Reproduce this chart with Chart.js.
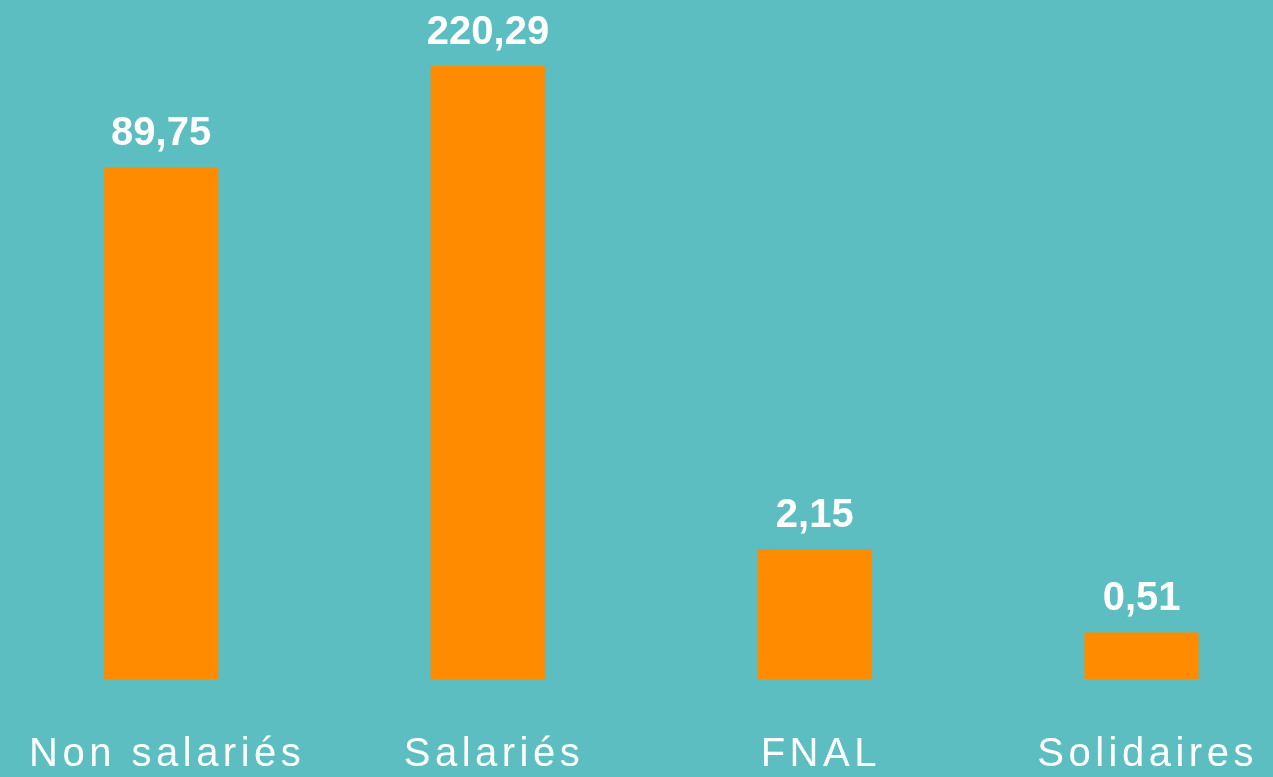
<!DOCTYPE html>
<html>
<head>
<meta charset="utf-8">
<script src="https://cdn.jsdelivr.net/npm/chart.js@4/dist/chart.umd.min.js"></script>
<style>
    html, body { margin: 0; padding: 0; overflow: hidden; background: #5DBEC2; }
    #wrap { position: absolute; left: -3px; top: 0; width: 1308px; height: 777px; }
</style>
</head>
<body>
<div id="wrap"><canvas id="barChart" width="1308" height="777"></canvas></div>
<script>
var categories = ['Non salariés', 'Salariés', 'FNAL', 'Solidaires'];
var values = [89.75, 220.29, 2.15, 0.51];

var fontFamily = "'Liberation Sans', Arial, sans-serif";

// bars in the picture are on a log(1 + x) kind of scale
class Log1pScale extends Chart.LinearScale {
    getPixelForValue(value) {
        var t = Math.log10(1 + value) / Math.log10(1 + this.max);
        return this.getPixelForDecimal(t);
    }
    getValueForPixel(pixel) {
        return Math.pow(10, this.getDecimalForPixel(pixel) * Math.log10(1 + this.max)) - 1;
    }
}
Log1pScale.id = 'log1p';
Log1pScale.defaults = Chart.LinearScale.defaults;
Chart.register(Log1pScale);

var spacingPlugin = {
    id: 'spacing',
    beforeDraw: function(chart) { chart.ctx.letterSpacing = '4.5px'; },
    beforeDatasetsDraw: function(chart) { chart.ctx.letterSpacing = '0px'; }
};

var valueLabels = {
    id: 'valueLabels',
    afterDatasetsDraw: function(chart) {
        var ctx = chart.ctx;
        var meta = chart.getDatasetMeta(0);
        ctx.save();
        ctx.letterSpacing = '0px';
        ctx.fillStyle = '#ffffff';
        ctx.font = 'bold 40px ' + fontFamily;
        ctx.textAlign = 'center';
        ctx.textBaseline = 'alphabetic';
        meta.data.forEach(function(bar, i) {
            var txt = values[i].toFixed(2).replace('.', ',');
            ctx.fillText(txt, bar.x, bar.y - 22);
        });
        ctx.restore();
    }
};

window.onload = function() {
    var ctx = document.getElementById('barChart').getContext('2d');
    new Chart(ctx, {
        type: 'bar',
        data: {
            labels: categories,
            datasets: [{
                data: values,
                backgroundColor: '#FF8C00',
                borderWidth: 0,
                barPercentage: 0.35,
                categoryPercentage: 1
            }]
        },
        options: {
            responsive: false,
            animation: false,
            layout: { padding: { top: 0, left: 0, right: 0, bottom: -53 } },
            plugins: {
                legend: { display: false },
                tooltip: { enabled: false }
            },
            scales: {
                x: {
                    grid: { display: false, drawTicks: false },
                    border: { display: false },
                    ticks: {
                        color: '#ffffff',
                        font: { family: fontFamily, size: 40, lineHeight: 1.12 },
                        padding: 53,
                        labelOffset: 6,
                        autoSkip: false,
                        maxRotation: 0
                    }
                },
                y: {
                    type: 'log1p',
                    display: false,
                    min: 0,
                    max: 395
                }
            }
        },
        plugins: [spacingPlugin, valueLabels]
    });
};
</script>
</body>
</html>
